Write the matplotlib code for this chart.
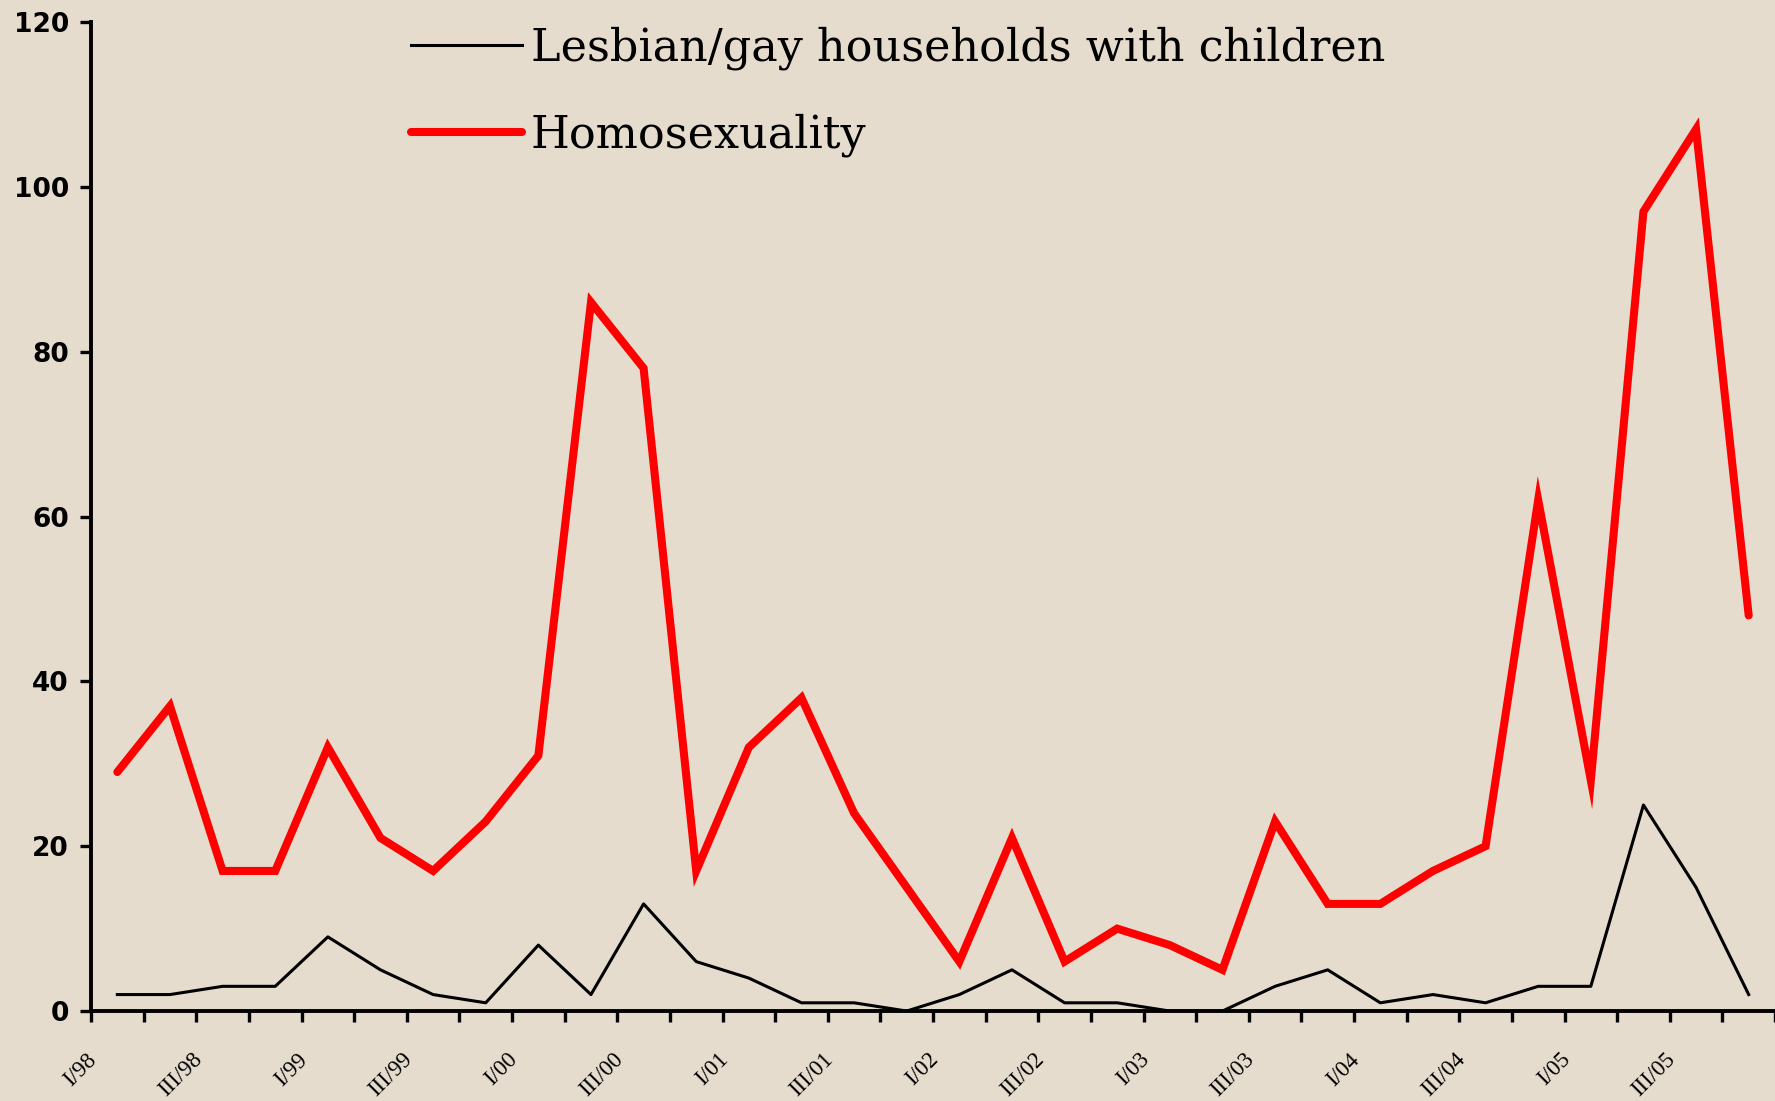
import numpy as np
import matplotlib
matplotlib.use("Agg")
import matplotlib.pyplot as plt
import matplotlib.transforms as mtransforms

# quarterly counts, I/98 .. IV/05
quarters = [f"{q}/{y:02d}" for y in [98, 99, 0, 1, 2, 3, 4, 5] for q in ["I", "II", "III", "IV"]]
homosexuality = [29, 37, 17, 17, 32, 21, 17, 23, 31, 86, 78, 17, 32, 38, 24, 15,
                 6, 21, 6, 10, 8, 5, 23, 13, 13, 17, 20, 62, 28, 97, 107, 48]
households = [2, 2, 3, 3, 9, 5, 2, 1, 8, 2, 13, 6, 4, 1, 1, 0,
              2, 5, 1, 1, 0, 0, 3, 5, 1, 2, 1, 3, 3, 25, 15, 2]
y_ticks = [0, 20, 40, 60, 80, 100, 120]

bg = "#e5dccd"
fig = plt.figure(figsize=(17.75, 11.01), dpi=100, facecolor=bg)
ax = fig.add_axes([0.0513, 0.0817, 0.9487, 0.8983], facecolor=bg)

x = np.arange(len(quarters))
ax.plot(x, households, color="black", lw=2.2, label="Lesbian/gay households with children")
ax.plot(x, homosexuality, color="#ff0000", lw=5.8, solid_capstyle="round",
        solid_joinstyle="miter", label="Homosexuality")

ax.set_xlim(-0.5, len(quarters) - 0.5)
ax.set_ylim(0, 120)
ax.set_yticks(y_ticks)
ax.set_yticklabels([str(v) for v in y_ticks], fontsize=19, fontweight="bold", family="DejaVu Sans")

# ticks sit between categories, labels every other quarter
ax.set_xticks(np.arange(-0.5, len(quarters), 1.0))
ax.set_xticklabels([])
trans = mtransforms.blended_transform_factory(ax.transData, ax.transAxes)
for i in range(0, len(quarters), 2):
    ax.text(i - 0.45, -0.046, quarters[i], transform=trans, rotation=45,
            rotation_mode="anchor", ha="right", va="center",
            fontsize=16.5, family="Liberation Serif")

for s in ["top", "right"]:
    ax.spines[s].set_visible(False)
for s in ["left", "bottom"]:
    ax.spines[s].set_linewidth(2.8)
ax.tick_params(axis="both", direction="out", length=8, width=2.4, pad=8)

leg = ax.legend(loc="upper left", bbox_to_anchor=(0.166, 1.036), frameon=False,
                prop={"family": "DejaVu Serif", "size": 32}, handlelength=2.5,
                handletextpad=0.2, labelspacing=0.97)

fig.savefig("out.png", dpi=100, facecolor=bg)
